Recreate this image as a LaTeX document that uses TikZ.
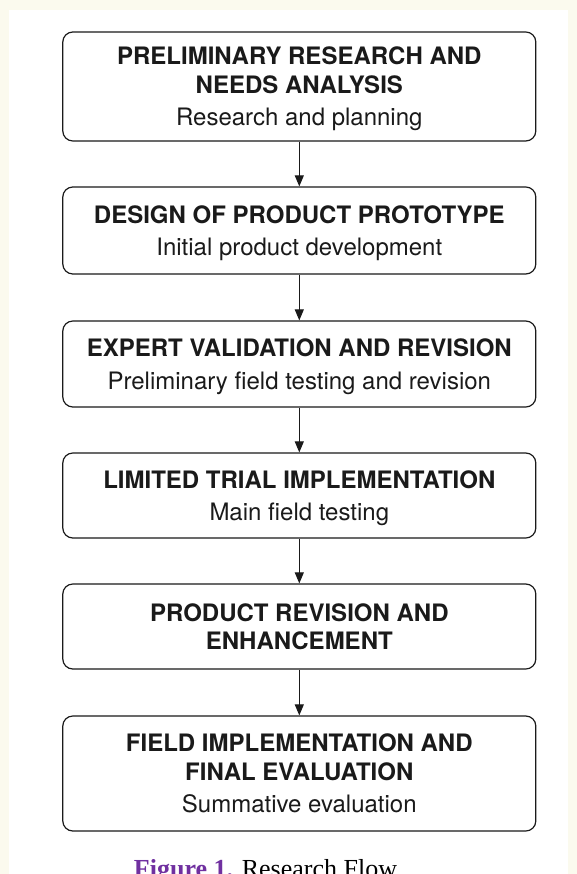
\documentclass[tikz,border=0pt]{standalone}
\usepackage{fontspec}
\setmainfont{TeX Gyre Heros}
\newfontfamily\capfont{Liberation Serif}
\usetikzlibrary{arrows.meta}
\definecolor{bgcream}{HTML}{FBFAEE}
\definecolor{figpurple}{HTML}{7030A0}
\definecolor{inkc}{HTML}{1A1A1A}
\begin{document}
\begin{tikzpicture}[x=1pt,y=-1pt,
  flowbox/.style={draw=inkc, line width=1.2pt, rounded corners=10pt, fill=white,
    minimum width=473pt, align=center, inner sep=0pt, text=inkc, text depth=0pt,
    font=\fontsize{24}{28.5}\selectfont},
  conn/.style={draw=inkc, line width=1pt, -{Triangle[length=11pt,width=9pt]}}]
\useasboundingbox (0,0) rectangle (577,874);
\fill[bgcream] (0,0) rectangle (577,874);
\fill[white] (8.5,10) rectangle (568,874);

\node[flowbox, minimum height=109pt] (b1) at (299.3,86.5)
  {\textbf{PRELIMINARY RESEARCH AND}\\\textbf{NEEDS ANALYSIS}\\[4pt]Research and planning};
\node[flowbox, minimum height=87pt] (b2) at (299.3,230.5)
  {\textbf{DESIGN OF PRODUCT PROTOTYPE}\\[4pt]Initial product development};
\node[flowbox, minimum height=86pt] (b3) at (299.3,364)
  {\textbf{EXPERT VALIDATION AND REVISION}\\[4pt]Preliminary field testing and revision};
\node[flowbox, minimum height=85pt] (b4) at (299.3,495.5)
  {\textbf{LIMITED TRIAL IMPLEMENTATION}\\[4pt]Main field testing};
\node[flowbox, minimum height=85pt] (b5) at (299.3,626.5)
  {\textbf{PRODUCT REVISION AND}\\\textbf{ENHANCEMENT}};
\node[flowbox, minimum height=115pt] (b6) at (299.3,773.5)
  {\textbf{FIELD IMPLEMENTATION AND}\\\textbf{FINAL EVALUATION}\\[4pt]Summative evaluation};

\draw[conn] (b1.south) -- (b2.north);
\draw[conn] (b2.south) -- (b3.north);
\draw[conn] (b3.south) -- (b4.north);
\draw[conn] (b4.south) -- (b5.north);
\draw[conn] (b5.south) -- (b6.north);

\node[anchor=base, inner sep=0pt, font=\capfont\fontsize{26}{30}\selectfont] (cap) at (265.5,877)
  {\textcolor{figpurple}{\textbf{Figure 1.}} Research Flow};
\end{tikzpicture}
\end{document}
